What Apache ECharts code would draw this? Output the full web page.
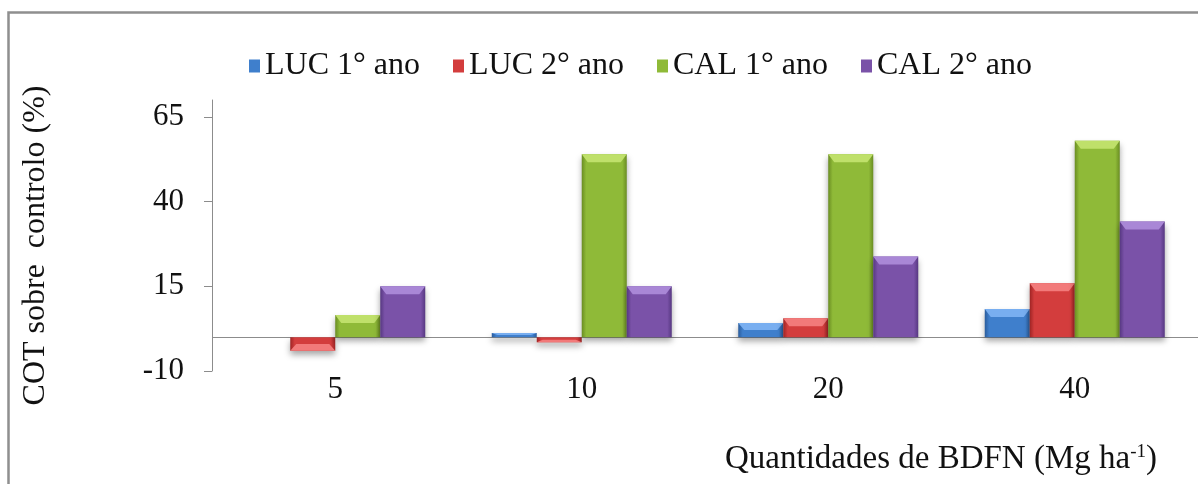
<!DOCTYPE html>
<html>
<head>
<meta charset="utf-8">
<script src="https://cdn.jsdelivr.net/npm/echarts@6/dist/echarts.min.js"></script>
<style>
  html, body { margin: 0; padding: 0; background: #ffffff; }
  #chart { width: 1198px; height: 484px; }
</style>
</head>
<body>
<div id="chart"></div>
<script>
// BDFN application rates (Mg ha-1)
const categories = ['5', '10', '20', '40'];

// COT change over control (%)
const luc1 = [0, 1.2, 4.2, 8.3];
const luc2 = [-4, -1.5, 5.6, 15.9];
const cal1 = [6.5, 54, 54, 58];
const cal2 = [15, 15, 23.8, 34.1];

const seriesNames = ['LUC 1° ano', 'LUC 2° ano', 'CAL 1° ano', 'CAL 2° ano'];
const yTicks = [-10, 15, 40, 65];

const palette = [
  { base: '#3f7fcc', dark: '#2a5c9c', light: '#78aef0' },
  { base: '#d33d3d', dark: '#9f2424', light: '#f27a7a' },
  { base: '#8fba38', dark: '#6a8d22', light: '#bfe06a' },
  { base: '#7a52a8', dark: '#573882', light: '#a987d6' }
];

const serif = '"Liberation Serif", "DejaVu Serif", serif';

function barFill(c) {
  return new echarts.graphic.LinearGradient(0, 0, 1, 0, [
    { offset: 0, color: c.dark },
    { offset: 0.1, color: c.base },
    { offset: 0.9, color: c.base },
    { offset: 1, color: c.dark }
  ]);
}

// Bevelled bar: body, lighter cap on the far end, darker side edges
function bevelRenderer(c) {
  return function (params, api) {
    const idx = api.value(0);
    const val = api.value(1);
    const base = api.coord([idx, 0]);
    const tip = api.coord([idx, val]);
    const barW = 45;
    const nSeries = 4;
    const group = barW * nSeries;
    const x0 = base[0] - group / 2 + params.seriesIndex * barW;
    const yTop = Math.min(base[1], tip[1]);
    const yBot = Math.max(base[1], tip[1]);
    const h = yBot - yTop;
    const bev = Math.min(8, h / 2);
    const side = 6;
    const children = [
      {
        type: 'rect',
        shape: { x: x0, y: yTop, width: barW, height: h },
        style: {
          fill: barFill(c),
          shadowBlur: 6,
          shadowOffsetY: 4,
          shadowColor: 'rgba(0,0,0,0.35)'
        }
      }
    ];
    if (h > 1) {
      const capY = val >= 0 ? yTop : yBot;
      const dir = val >= 0 ? 1 : -1;
      children.push({
        type: 'polygon',
        shape: {
          points: [
            [x0, capY],
            [x0 + barW, capY],
            [x0 + barW - side, capY + dir * bev],
            [x0 + side, capY + dir * bev]
          ]
        },
        style: { fill: c.light }
      });
    }
    return { type: 'group', children: children };
  };
}

const seriesData = [luc1, luc2, cal1, cal2];

const series = seriesData.map(function (vals, i) {
  return {
    name: seriesNames[i],
    type: 'custom',
    renderItem: bevelRenderer(palette[i]),
    encode: { x: 0, y: 1 },
    itemStyle: { color: palette[i].base },
    data: vals.map(function (v, k) { return [k, v]; }),
    z: 3
  };
});

// Horizontal line at zero on which the bars stand
series[0].markLine = {
  silent: true,
  symbol: 'none',
  label: { show: false },
  lineStyle: { color: '#8c8c8c', width: 1, type: 'solid' },
  data: [{ yAxis: 0 }],
  z: 1
};

const chart = echarts.init(document.getElementById('chart'), null, { renderer: 'canvas' });

chart.setOption({
  backgroundColor: '#ffffff',
  animation: false,
  graphic: [
    {
      type: 'polyline',
      shape: { points: [[8.5, 484], [8.5, 12.5], [1198, 12.5]] },
      style: { stroke: '#8f8f8f', lineWidth: 2.5, fill: null }
    }
  ],
  legend: {
    left: 244,
    top: 45,
    itemWidth: 11,
    itemHeight: 13,
    itemGap: 33,
    icon: 'rect',
    textStyle: { fontFamily: serif, fontSize: 32, color: '#111' },
    data: seriesNames
  },
  grid: { left: 212, right: 0, top: 100, bottom: 113, containLabel: false },
  xAxis: {
    type: 'category',
    data: categories,
    boundaryGap: true,
    axisLine: { show: false, onZero: false },
    axisTick: { show: false },
    axisLabel: { fontFamily: serif, fontSize: 31, color: '#111', margin: 3 },
    name: 'Quantidades de BDFN (Mg ha{sup|-1})',
    nameLocation: 'middle',
    nameGap: 72,
    nameTextStyle: {
      fontFamily: serif,
      fontSize: 33,
      color: '#111',
      padding: [0, 0, 0, 472],
      rich: {
        sup: { fontFamily: serif, fontSize: 19, color: '#111', verticalAlign: 'top', padding: [0, 0, 14, 0] }
      }
    }
  },
  yAxis: {
    type: 'value',
    min: -10,
    max: 70,
    interval: 25,
    splitLine: { show: false },
    axisLine: { show: true, lineStyle: { color: '#8c8c8c', width: 1 } },
    axisTick: { show: true, inside: false, length: 8, lineStyle: { color: '#8c8c8c' }, customValues: yTicks },
    axisLabel: { fontFamily: serif, fontSize: 31, color: '#111', margin: 28, customValues: yTicks },
    name: 'COT sobre  controlo (%)',
    nameLocation: 'middle',
    nameGap: 160,
    nameRotate: 90,
    nameTextStyle: { fontFamily: serif, fontSize: 32, color: '#111', padding: [0, 20, 0, 0], align: 'center' }
  },
  series: series
});
</script>
</body>
</html>
